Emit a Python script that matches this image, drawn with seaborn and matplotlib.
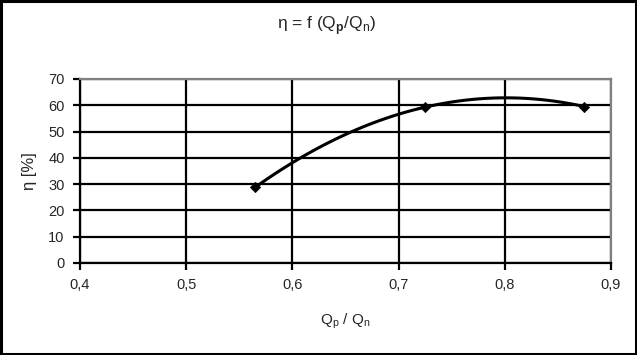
import numpy as np
import pandas as pd
import seaborn as sns
import matplotlib.pyplot as plt
from matplotlib.patches import Rectangle

# data
q_ratio = [0.565, 0.725, 0.875]   # Qp / Qn
eta = [28.8, 59.3, 59.5]          # efficiency [%]

x_ticks = [0.4, 0.5, 0.6, 0.7, 0.8, 0.9]
x_labels = ['0,4', '0,5', '0,6', '0,7', '0,8', '0,9']
y_ticks = [0, 10, 20, 30, 40, 50, 60, 70]


def smooth_line(xs, ys, n=60):
    # hermite smoothing (spreadsheet style "smoothed line"), tangents from the points
    xs = np.asarray(xs, float)
    ys = np.asarray(ys, float)
    d = np.gradient(ys, xs, edge_order=2)
    t = np.linspace(0, 1, n)
    out_x, out_y = [], []
    for i in range(len(xs) - 1):
        h = xs[i + 1] - xs[i]
        h00 = 2 * t ** 3 - 3 * t ** 2 + 1
        h10 = t ** 3 - 2 * t ** 2 + t
        h01 = -2 * t ** 3 + 3 * t ** 2
        h11 = t ** 3 - t ** 2
        out_x.extend(xs[i] + t * h)
        out_y.extend(h00 * ys[i] + h10 * h * d[i] + h01 * ys[i + 1] + h11 * h * d[i + 1])
    return out_x, out_y


sns.set_style('white')
plt.rcParams['font.family'] = ['Liberation Sans', 'DejaVu Sans']
plt.rcParams['mathtext.fontset'] = 'custom'
plt.rcParams['mathtext.rm'] = 'Liberation Sans'
plt.rcParams['mathtext.bf'] = 'Liberation Sans:bold'

fig = plt.figure(figsize=(6.37, 3.55), dpi=100)
ax = fig.add_axes([80 / 637, 1 - 263 / 355, 531 / 637, 184 / 355])

sx, sy = smooth_line(q_ratio, eta)
curve = pd.DataFrame({'x': sx, 'y': sy})
pts = pd.DataFrame({'x': q_ratio, 'y': eta})
sns.lineplot(data=curve, x='x', y='y', ax=ax, color='black', lw=2.2, sort=False, zorder=3)
sns.scatterplot(data=pts, x='x', y='y', ax=ax, marker='D', s=28, color='black',
                edgecolor='black', zorder=4)

ax.set_xlim(0.4, 0.9)
ax.set_ylim(0, 70)
ax.set_xticks(x_ticks)
ax.set_xticklabels(x_labels)
ax.set_yticks(y_ticks)
ax.grid(True, color='black', lw=1.6)
ax.tick_params(direction='out', length=5, width=1.6, color='black',
               labelsize=10.5, pad=6, bottom=True, left=True)
for s in ['left', 'bottom']:
    ax.spines[s].set_color('black')
    ax.spines[s].set_linewidth(1.6)
for s in ['top', 'right']:
    ax.spines[s].set_color('#808080')
    ax.spines[s].set_linewidth(1.6)

ax.set_xlabel('Q$_\\mathrm{p}$ / Q$_\\mathrm{n}$', fontsize=11, labelpad=14)
ax.set_ylabel('η [%]', fontsize=12, labelpad=8)
fig.text(327 / 637, 1 - 26 / 355, 'η = f (Q$_\\mathbf{p}$/Q$_\\mathrm{n}$)',
         ha='center', va='center', fontsize=12.5)

fig.patches.append(Rectangle((0.0015, 0.003), 0.997, 0.994, transform=fig.transFigure,
                             fill=False, edgecolor='black', lw=2.2))

fig.savefig('out.png', dpi=100)
